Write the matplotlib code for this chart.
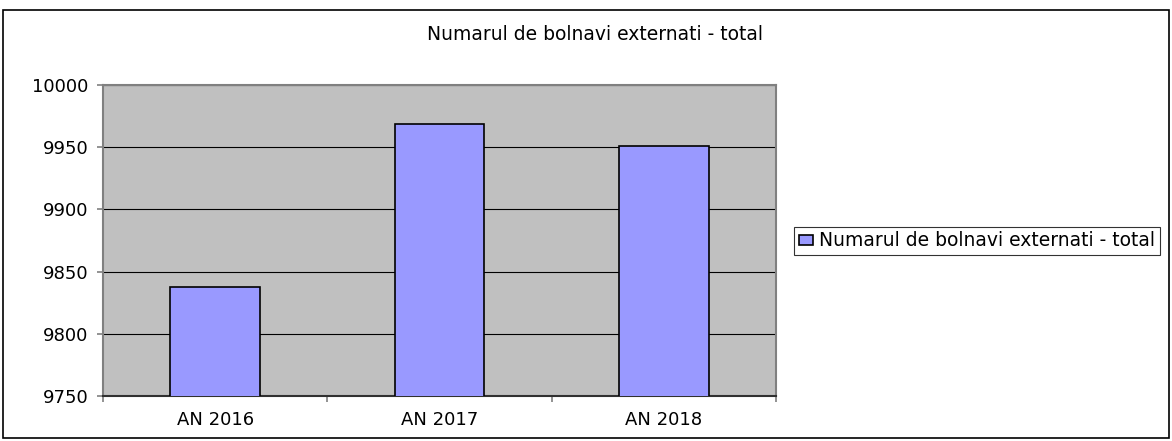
import matplotlib.pyplot as plt
from matplotlib.patches import Rectangle

categories = ["AN 2016", "AN 2017", "AN 2018"]
values = [9838, 9969, 9951]
series_name = "Numarul de bolnavi externati - total"
y_ticks = [9750, 9800, 9850, 9900, 9950, 10000]

plt.rcParams['font.family'] = ['DejaVu Sans']
fs = 13.5

fig = plt.figure(figsize=(11.72, 4.41), dpi=100)
W, H = 1172, 441

# outer chart frame
fig.patches.append(Rectangle((3 / W, 3 / H), 1166 / W, 428 / H, transform=fig.transFigure,
                             fill=False, edgecolor='black', linewidth=1.2))

ax = fig.add_axes([103 / W, 1 - 396 / H, 673 / W, 311 / H])
ax.set_facecolor('#c0c0c0')

x = range(len(categories))
ax.bar(x, values, width=0.4, color='#9999ff', edgecolor='black', linewidth=1.2,
       label=series_name, zorder=3)

ax.set_xlim(-0.5, len(categories) - 0.5)
ax.set_ylim(9750, 10000)
ax.set_yticks(y_ticks)
ax.set_yticklabels([str(t) for t in y_ticks], fontsize=fs - 0.5)
ax.set_xticks(list(x))
ax.set_xticklabels(categories, fontsize=fs - 0.5)
ax.set_xticks([-0.5, 0.5, 1.5, 2.5], minor=True)
ax.tick_params(axis='x', which='major', length=0, pad=11)
ax.tick_params(axis='x', which='minor', length=4, color='#808080', width=1.2)
ax.tick_params(axis='y', length=4.5, color='#808080', width=1.2, pad=6)

ax.grid(axis='y', color='black', linewidth=0.8, zorder=1)
ax.set_axisbelow(True)
for s in ax.spines.values():
    s.set_color('#808080')
    s.set_linewidth(1.5)
ax.spines['bottom'].set_color('#303030')

fig.text(595 / W, 1 - 35 / H, series_name, ha='center', va='center', fontsize=fs)

leg = fig.legend(loc='center left', bbox_to_anchor=(794 / W, 1 - 241 / H), fontsize=fs,
                 frameon=True, fancybox=False, edgecolor='black', handlelength=0.75,
                 handleheight=0.5, handletextpad=0.35, borderpad=0.25, borderaxespad=0)
leg.get_frame().set_linewidth(0.8)

fig.savefig("out.png", dpi=100)
